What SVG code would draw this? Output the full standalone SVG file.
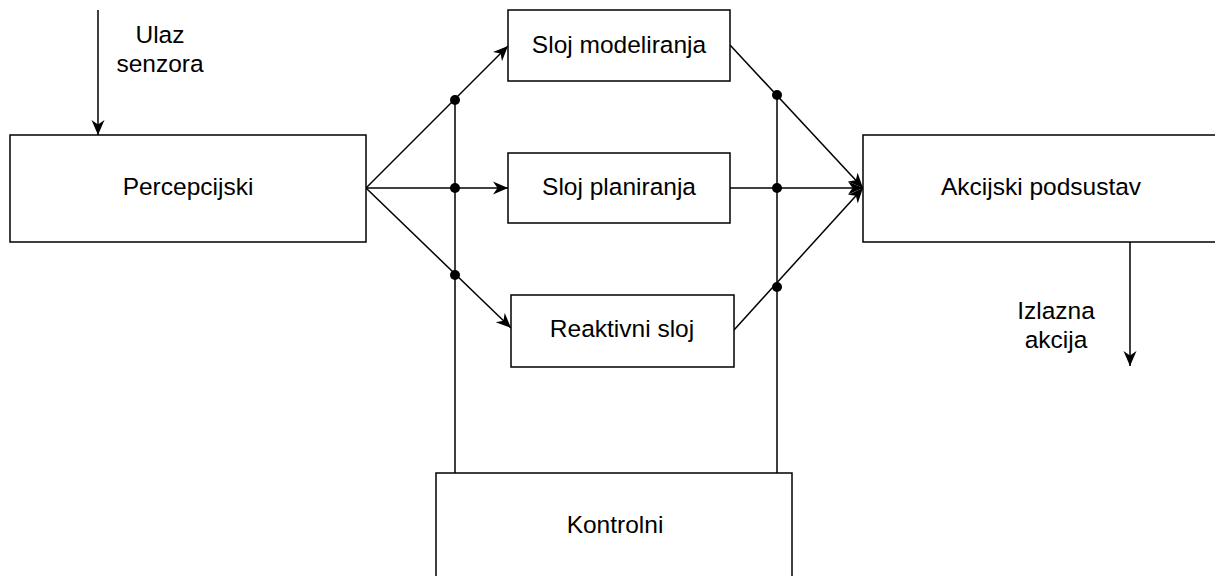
<svg xmlns="http://www.w3.org/2000/svg" width="1215" height="576" viewBox="0 0 1215 576">
<style>
.box{fill:#fff;stroke:#000;stroke-width:1.5}
.lbl{font-family:"Liberation Sans",Arial,sans-serif;font-size:24.5px;fill:#000;text-anchor:middle}
.ln{fill:none;stroke:#000;stroke-width:1.5}
.dot{fill:#000}
</style>
<defs>
<marker id="arr" markerUnits="userSpaceOnUse" markerWidth="16" markerHeight="14" refX="15" refY="6.5" orient="auto" viewBox="0 0 16 13">
<path d="M0,0 L15,6.5 L0,13 L4.5,6.5 Z" fill="#000"/>
</marker>
</defs>
<g id="connectors">
<path class="ln" d="M98,10 L98,135" marker-end="url(#arr)"/>
<path class="ln" d="M366,188 L508,46" marker-end="url(#arr)"/>
<path class="ln" d="M366,188 L508,188" marker-end="url(#arr)"/>
<path class="ln" d="M366,188 L511,328" marker-end="url(#arr)"/>
<path class="ln" d="M455,100 L455,473"/>
<path class="ln" d="M777,95 L777,473"/>
<path class="ln" d="M730,45 L863,188" marker-end="url(#arr)"/>
<path class="ln" d="M730,188 L863,188" marker-end="url(#arr)"/>
<path class="ln" d="M734,330 L863,188" marker-end="url(#arr)"/>
<path class="ln" d="M1130,242 L1130,366" marker-end="url(#arr)"/>
<circle class="dot" cx="455" cy="100" r="5"/>
<circle class="dot" cx="455" cy="188" r="5"/>
<circle class="dot" cx="455" cy="275" r="5"/>
<circle class="dot" cx="777" cy="95" r="5"/>
<circle class="dot" cx="777" cy="188" r="5"/>
<circle class="dot" cx="777" cy="287" r="5"/>
</g>
<g id="label-ulaz">
<text class="lbl" x="160" y="43">Ulaz</text>
<text class="lbl" x="160" y="72">senzora</text>
</g>
<g id="label-izlazna">
<text class="lbl" x="1056" y="319">Izlazna</text>
<text class="lbl" x="1056" y="348">akcija</text>
</g>
<g id="percepcijski">
<rect class="box" x="10" y="135" width="356" height="107"/>
<text class="lbl" x="188" y="195">Percepcijski</text>
</g>
<g id="modeliranja">
<rect class="box" x="508" y="10" width="222" height="71"/>
<text class="lbl" x="619" y="53">Sloj modeliranja</text>
</g>
<g id="planiranja">
<rect class="box" x="508" y="153" width="222" height="70"/>
<text class="lbl" x="619" y="195">Sloj planiranja</text>
</g>
<g id="reaktivni">
<rect class="box" x="511" y="295" width="223" height="72"/>
<text class="lbl" x="622" y="337">Reaktivni sloj</text>
</g>
<g id="akcijski">
<rect class="box" x="863" y="135" width="370" height="107"/>
<text class="lbl" x="1041" y="195">Akcijski podsustav</text>
</g>
<g id="kontrolni">
<rect class="box" x="436" y="473" width="356" height="120"/>
<text class="lbl" x="615" y="533">Kontrolni</text>
</g>
</svg>
